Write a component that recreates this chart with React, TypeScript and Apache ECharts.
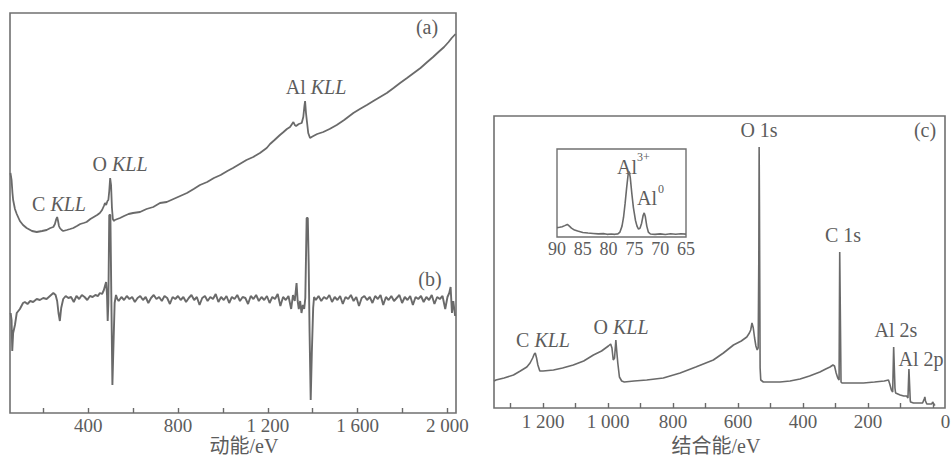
import React, { useEffect, useRef } from 'react';
import * as echarts from 'echarts';

// ---- AES survey, kinetic energy (eV) vs. intensity (a.u.) ----
const aesSpectrum: [number, number][] = [
  [54, 240], [59, 233], [63, 220], [66, 213], [74, 204], [82, 199], [96, 192], [110, 188], [126, 185],
  [150, 182], [171, 181], [195, 182], [215, 183], [232, 185], [245, 186], [252, 189], [258, 194],
  [262, 196], [266, 192], [270, 187], [274, 185], [282, 183], [289, 182], [305, 183], [320, 184],
  [334, 185], [350, 187], [365, 189], [380, 190], [393, 191], [410, 194], [425, 196], [440, 198],
  [452, 200], [462, 203], [470, 207], [475, 210], [480, 208], [486, 212], [490, 213], [494, 222],
  [498, 235], [502, 228], [506, 205], [510, 194], [515, 192], [519, 193], [530, 194], [542, 195],
  [560, 197], [580, 199], [600, 200], [631, 201], [660, 204], [690, 206], [720, 210], [750, 211],
  [780, 214], [810, 217], [840, 220], [870, 224], [898, 228], [930, 231], [960, 235], [990, 238],
  [1020, 242], [1045, 245], [1075, 249], [1105, 253], [1135, 256], [1165, 260], [1195, 265],
  [1210, 269], [1230, 273], [1254, 278], [1270, 281], [1285, 284], [1299, 286], [1308, 289],
  [1314, 291], [1320, 288], [1326, 287], [1338, 289], [1351, 290], [1358, 296], [1363, 307],
  [1366, 312], [1370, 300], [1375, 290], [1380, 280], [1388, 275], [1395, 276], [1403, 277],
  [1420, 279], [1447, 281], [1475, 284], [1507, 288], [1540, 293], [1581, 300], [1610, 304],
  [1641, 308], [1670, 312], [1700, 316], [1730, 320], [1760, 325], [1789, 330], [1820, 335],
  [1850, 340], [1880, 345], [1910, 351], [1936, 356], [1960, 361], [1985, 366], [2005, 371],
  [2019, 375], [2036, 379],
];

// ---- AES derivative spectrum dN(E)/dE ----
const aesDerivative: [number, number][] = [
  [55, 100], [59, 93], [62, 62], [66, 80], [74, 88], [82, 100], [96, 104], [110, 110], [118, 111],
  [130, 109], [142, 112], [155, 111], [171, 114], [185, 113], [200, 115], [215, 114], [230, 117],
  [245, 120], [255, 118], [262, 112], [268, 100], [274, 92], [280, 105], [289, 114], [300, 117],
  [312, 115], [324, 116], [336, 111], [348, 117], [360, 114], [372, 118], [384, 116], [396, 113],
  [408, 117], [420, 116], [432, 118], [444, 117], [452, 120], [462, 119], [470, 123], [476, 128],
  [480, 131], [484, 118], [487, 92], [490, 110], [494, 198], [499, 198], [503, 120], [508, 28],
  [513, 70], [518, 110], [524, 118], [530, 114],
  [536, 112], [548, 116], [560, 113], [572, 117], [584, 114], [596, 116], [608, 111], [620, 115],
  [632, 117], [644, 113], [656, 116], [668, 110], [680, 115], [692, 118], [704, 114], [716, 116],
  [728, 112], [740, 117], [752, 115], [764, 109], [776, 116], [788, 114], [800, 117], [812, 113],
  [824, 116], [836, 111], [848, 115], [860, 118], [872, 113], [884, 116], [896, 108], [908, 115],
  [920, 117], [932, 112], [944, 116], [956, 114], [968, 119], [980, 111], [992, 116], [1004, 113],
  [1016, 117], [1028, 110], [1040, 116], [1052, 114], [1064, 118], [1076, 112], [1088, 116],
  [1100, 115], [1112, 109], [1124, 117], [1136, 114], [1148, 118], [1160, 112], [1172, 116],
  [1184, 113], [1196, 117], [1208, 110], [1220, 116], [1232, 114], [1244, 119], [1256, 107],
  [1268, 116], [1280, 113], [1292, 117], [1304, 104], [1312, 118], [1320, 112], [1328, 130],
  [1333, 112], [1338, 104], [1344, 112], [1350, 100], [1356, 108], [1362, 104], [1367, 115],
  [1373, 195], [1378, 195], [1382, 150], [1386, 80], [1391, 13], [1396, 60], [1402, 105],
  [1406, 116], [1414, 113], [1426, 117], [1438, 112], [1450, 116], [1462, 114], [1474, 118],
  [1486, 111], [1498, 116], [1510, 113], [1522, 117], [1534, 109], [1546, 116], [1558, 114],
  [1570, 118], [1582, 112], [1594, 116], [1606, 107], [1618, 115], [1630, 117], [1642, 113],
  [1654, 116], [1666, 110], [1678, 117], [1690, 114], [1702, 118], [1714, 108], [1726, 116],
  [1738, 113], [1750, 117], [1762, 112], [1774, 115], [1786, 118], [1798, 110], [1810, 116],
  [1822, 113], [1834, 117], [1846, 108], [1858, 116], [1870, 114], [1882, 117], [1894, 111],
  [1906, 116], [1918, 113], [1930, 118], [1942, 109], [1954, 116], [1966, 114], [1978, 117],
  [1990, 104], [2000, 116], [2008, 120], [2014, 126], [2020, 100], [2026, 112], [2034, 97],
];

// ---- XPS survey, binding energy (eV) vs. intensity ----
const xpsSurvey: [number, number][] = [
  [1351, 27], [1345, 28], [1320, 30], [1291, 33], [1270, 37], [1250, 41], [1240, 45], [1232, 50],
  [1227, 54], [1224, 55], [1220, 50], [1216, 43], [1210, 37], [1200, 37], [1168, 38], [1140, 40],
  [1107, 43], [1075, 47], [1045, 53], [1020, 57], [999, 62], [992, 64], [988, 60], [984, 48],
  [980, 50], [976, 68], [973, 56], [970, 45], [965, 31], [958, 27], [950, 26], [920, 27], [881, 28],
  [830, 30], [778, 35], [730, 41], [676, 48], [645, 55], [614, 63], [590, 67], [573, 71], [565, 75],
  [561, 78], [557, 85], [553, 80], [549, 70], [545, 62], [541, 58], [538, 60], [536, 150],
  [535, 261], [534, 200], [532, 40], [530, 28], [522, 26], [500, 26], [471, 26], [440, 27],
  [409, 29], [380, 32], [348, 36], [330, 39], [317, 41], [308, 43], [303, 42], [298, 35], [293, 30],
  [289, 28], [287, 156], [285, 156], [283, 26], [280, 25], [276, 25], [250, 25], [214, 25],
  [180, 26], [150, 27], [137, 28], [133, 24], [128, 18], [124, 16], [121, 61], [119, 61], [117, 20],
  [115, 15], [108, 14], [101, 13], [90, 12], [81, 12], [77, 10], [74, 39], [72, 39], [70, 8],
  [69, 6], [60, 5], [45, 5], [32, 5], [27, 9], [25, 11], [23, 7], [19, 4], [10, 4], [4, 4], [1, 6],
  [-1, 6], [-4, 3], [-7, 3],
];

// ---- Al 2p high-resolution region ----
const al2pRegion: [number, number][] = [
  [90, 9.5], [89.5, 9.8], [89, 10.4], [88.5, 11.5], [88, 12.7], [87.6, 11], [87.2, 9], [86.6, 7],
  [86, 6], [85, 4.6], [84, 4], [83, 3.6], [82, 3.2], [81, 3.4], [80.3, 2.7], [79.5, 3], [78.8, 2.7],
  [78.2, 3.2], [77.8, 5], [77.4, 11], [77.1, 20], [76.8, 34], [76.5, 50], [76.2, 64], [76.0, 66],
  [75.8, 60], [75.5, 44], [75.2, 30], [74.8, 17], [74.5, 11], [74.2, 8], [73.9, 9], [73.6, 14],
  [73.3, 22], [73.1, 24.4], [72.9, 21], [72.6, 11], [72.3, 5], [71.9, 3], [71, 2.7], [70, 3.2],
  [69, 2.6], [68, 3.3], [67, 2.8], [66, 3.3], [65, 2.9],
];

// ---- axis ticks and labels ----
const keTicks = [200, 400, 600, 800, 1000, 1200, 1400, 1600, 1800, 2000];
const keLabels = [400, 800, 1200, 1600, 2000];
const beTicks = [0, 100, 200, 300, 400, 500, 600, 700, 800, 900, 1000, 1100, 1200, 1300];
const beLabels = [0, 200, 400, 600, 800, 1000, 1200];
const insetLabels = [65, 70, 75, 80, 85, 90];

const INK = '#5c5c5c';
const LINE = '#6a6a6a';
const SERIF = '"Liberation Serif", "Noto Sans CJK SC", serif';

const groupThousands = (v: number) =>
  v >= 1000 ? `${Math.floor(v / 1000)} ${String(v % 1000).padStart(3, '0')}` : String(v);

const labelStyle = { color: INK, fontFamily: SERIF, fontSize: 19 };

function peakLabel(x: number, y: number, element: string, rest: string) {
  return {
    type: 'text',
    x,
    y,
    style: {
      text: `{n|${element} }{i|${rest}}`,
      align: 'center',
      verticalAlign: 'middle',
      rich: {
        n: { fill: INK, fontFamily: SERIF, fontSize: 20 },
        i: { fill: INK, fontFamily: SERIF, fontSize: 20, fontStyle: 'italic' },
      },
    },
  };
}

function plainText(x: number, y: number, text: string, size = 20, align = 'center') {
  return {
    type: 'text',
    x,
    y,
    style: { text, fill: INK, font: `${size}px ${SERIF}`, align, verticalAlign: 'middle' },
  };
}

export default function App() {
  const ref = useRef<HTMLDivElement>(null);

  useEffect(() => {
    document.body.style.margin = '0';
    const chart = echarts.init(ref.current!, null, { renderer: 'svg' });

    const frame = {
      show: true,
      borderColor: '#707070',
      borderWidth: 1.6,
      backgroundColor: 'transparent',
      containLabel: false,
      outerBoundsMode: 'none',
    };

    chart.setOption({
      animation: false,
      backgroundColor: '#ffffff',
      grid: [
        { left: 10, top: 13, width: 446, height: 400, ...frame },
        { left: 494, top: 116, width: 451, height: 292, ...frame },
        { left: 557, top: 149, width: 129, height: 88, ...frame, borderWidth: 1.4 },
      ],
      xAxis: [
        {
          type: 'value', gridIndex: 0, min: 52, max: 2038,
          axisLine: { show: false },
          splitLine: { show: false },
          axisTick: { show: true, inside: true, length: 5, customValues: keTicks, lineStyle: { color: LINE, width: 1.4 } },
          axisLabel: { ...labelStyle, margin: 3, customValues: keLabels, formatter: groupThousands },
        },
        {
          type: 'value', gridIndex: 1, min: -37, max: 1351, inverse: true,
          axisLine: { show: false },
          splitLine: { show: false },
          axisTick: { show: true, inside: true, length: 5, customValues: beTicks, lineStyle: { color: LINE, width: 1.4 } },
          axisLabel: {
            ...labelStyle,
            margin: 4,
            customValues: beLabels,
            formatter: (v: number) => (v === 0 ? '{z|0}' : groupThousands(v)),
            rich: { z: { ...labelStyle, padding: [0, 0, 0, 25] } },
          },
        },
        {
          type: 'value', gridIndex: 2, min: 65, max: 90, inverse: true,
          axisLine: { show: false },
          splitLine: { show: false },
          axisTick: { show: false },
          axisLabel: { ...labelStyle, fontSize: 18, margin: 3, customValues: insetLabels },
        },
      ],
      yAxis: [
        { type: 'value', gridIndex: 0, min: 0, max: 400, show: false },
        { type: 'value', gridIndex: 1, min: 0, max: 292, show: false },
        { type: 'value', gridIndex: 2, min: 0, max: 89, show: false },
      ],
      series: [
        {
          name: 'AES', type: 'line', xAxisIndex: 0, yAxisIndex: 0, data: aesSpectrum,
          symbol: 'none', lineStyle: { color: LINE, width: 1.8 },
        },
        {
          name: 'AES derivative', type: 'line', xAxisIndex: 0, yAxisIndex: 0, data: aesDerivative,
          symbol: 'none', lineStyle: { color: LINE, width: 1.9 },
        },
        {
          name: 'XPS survey', type: 'line', xAxisIndex: 1, yAxisIndex: 1, data: xpsSurvey,
          symbol: 'none', lineStyle: { color: LINE, width: 1.6 },
        },
        {
          name: 'Al 2p', type: 'line', xAxisIndex: 2, yAxisIndex: 2, data: al2pRegion,
          symbol: 'none', lineStyle: { color: LINE, width: 1.6 },
        },
      ],
      graphic: [
        plainText(427, 27, '(a)'),
        plainText(430, 279, '(b)'),
        peakLabel(59, 204, 'C', 'KLL'),
        peakLabel(120, 164, 'O', 'KLL'),
        peakLabel(316, 87, 'Al', 'KLL'),
        plainText(244, 446, '动能/eV', 20),

        plainText(925, 130, '(c)'),
        plainText(759, 130, 'O 1s'),
        plainText(843, 235, 'C 1s'),
        peakLabel(543, 340, 'C', 'KLL'),
        peakLabel(621, 327, 'O', 'KLL'),
        plainText(896, 330, 'Al 2s'),
        plainText(921, 359, 'Al 2p'),
        plainText(716, 446, '结合能/eV', 20),

        plainText(617, 167, 'Al', 20, 'left'),
        plainText(637, 157, '3+', 12, 'left'),
        plainText(637, 198, 'Al', 20, 'left'),
        plainText(658, 189, '0', 12, 'left'),
      ],
    });

    return () => chart.dispose();
  }, []);

  return (
    <div
      ref={ref}
      style={{ position: 'absolute', left: 0, top: 0, width: 951, height: 460, background: '#fff' }}
    />
  );
}
